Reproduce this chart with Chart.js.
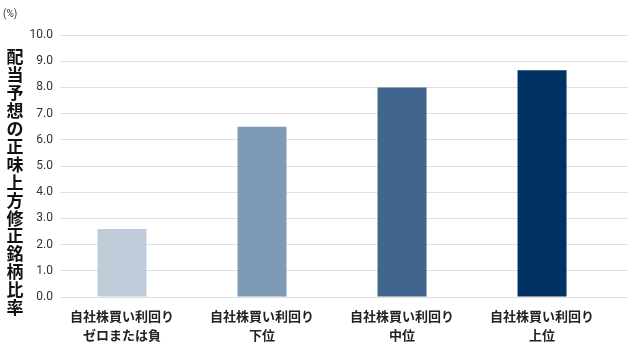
<!DOCTYPE html>
<html>
<head>
<meta charset="utf-8">
<script src="https://cdn.jsdelivr.net/npm/chart.js@4/dist/chart.umd.min.js"></script>
<style>
  html,body{margin:0;padding:0;background:#fff}
  #wrap{width:632px;height:347px;position:relative}
</style>
</head>
<body>
<div id="wrap"><canvas id="chart"></canvas></div>
<script>
const categories = [
  ['自社株買い利回り', 'ゼロまたは負'],
  ['自社株買い利回り', '下位'],
  ['自社株買い利回り', '中位'],
  ['自社株買い利回り', '上位']
];
const values = [2.6, 6.5, 8.0, 8.65];
const barColors = ['#bfcddb', '#7f9ab4', '#41658c', '#003263'];
const yTitle = '配当予想の正味上方修正銘柄比率';
const unitLabel = '(%)';

const JP = '"Noto Sans CJK JP", "Noto Sans", sans-serif';

// vertical stacked title + unit label
const sideText = {
  id: 'sideText',
  afterDraw(chart) {
    const ctx = chart.ctx;
    ctx.save();
    ctx.fillStyle = '#111';
    ctx.textAlign = 'center';
    ctx.textBaseline = 'middle';
    ctx.font = 'bold 17px ' + JP;
    [...yTitle].forEach((ch, i) => ctx.fillText(ch, 15, 57 + i * 17.9));
    ctx.font = '10px Roboto, sans-serif';
    ctx.fillStyle = '#333';
    ctx.textAlign = 'left';
    ctx.fillText(unitLabel, 3, 14);
    ctx.restore();
  }
};

new Chart(document.getElementById('chart'), {
  type: 'bar',
  data: {
    datasets: [{
      data: values.map((v, i) => ({x: i, y: v})),
      backgroundColor: barColors,
      borderWidth: 0,
      categoryPercentage: 1,
      barPercentage: 0.35
    }]
  },
  options: {
    responsive: true,
    maintainAspectRatio: false,
    animation: false,
    layout: {padding: {top: 35, right: 4, left: 0, bottom: 0}},
    plugins: {legend: {display: false}, tooltip: {enabled: false}},
    scales: {
      x: {
        type: 'linear',
        offset: false,
        min: -0.443,
        max: 3.614,
        afterBuildTicks: s => { s.ticks = categories.map((_, i) => ({value: i})); },
        afterFit: s => { s.height = 50; },
        grid: {display: false, drawTicks: false, offset: false},
        border: {display: false},
        ticks: {
          autoSkip: false,
          maxRotation: 0,
          padding: 10,
          color: '#222',
          font: {family: JP, size: 13, weight: 'bold', lineHeight: 1.45},
          callback: v => categories[v]
        }
      },
      y: {
        min: 0,
        max: 10,
        afterFit: s => { s.width = 60; },
        grid: {color: '#e0e0e0', lineWidth: 1, drawTicks: false},
        border: {display: false},
        ticks: {
          stepSize: 1,
          padding: 7,
          color: '#333',
          font: {family: 'Roboto, sans-serif', size: 12},
          callback: v => v.toFixed(1)
        }
      }
    }
  },
  plugins: [sideText]
});
</script>
</body>
</html>
